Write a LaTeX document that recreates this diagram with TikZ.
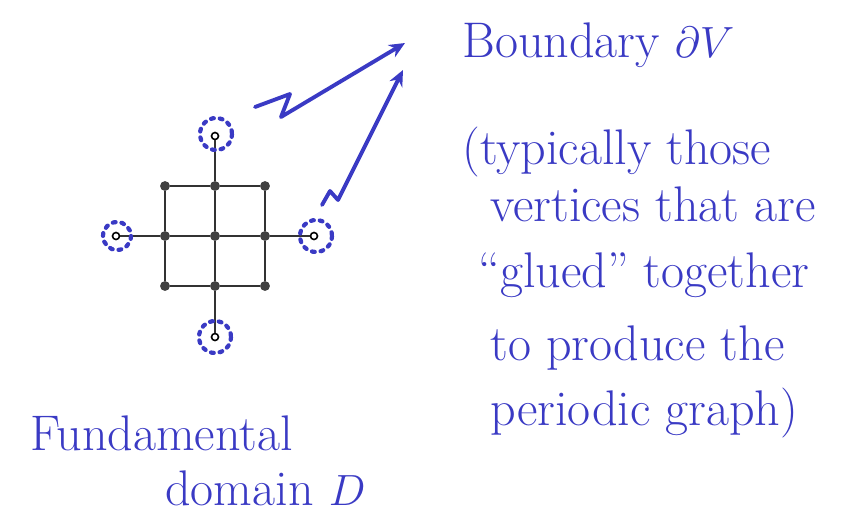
\documentclass[tikz,border=0pt]{standalone}
\usetikzlibrary{arrows.meta}
\definecolor{tinta}{RGB}{58,58,196}
\begin{document}
\begin{tikzpicture}[
    x=0.02cm,
    y=-0.02cm,
    font=\fontsize{28.5}{32}\selectfont,
    vertice/.style={circle,fill=black!75,inner sep=0pt,minimum size=5.6pt},
    borde/.style={circle,draw=black,fill=white,line width=0.9pt,inner sep=0pt,minimum size=4pt},
    arista/.style={line width=1.2pt,black!80},
    anillo/.style={tinta,line width=2.4pt,line cap=round,dash pattern=on 1.6pt off 3.4pt},
    flecha/.style={tinta,line width=2.2pt,line join=round,line cap=round,-{Stealth[length=9pt,width=8pt]}},
    rotulo/.style={tinta,anchor=base west,inner sep=0pt}
]
    \useasboundingbox (0,0) rectangle (853,515);

    % Dominio fundamental
    \foreach \i/\x in {1/165,2/215,3/265}
        \foreach \j/\y in {1/186,2/236,3/286}
            \node[vertice] (v\i\j) at (\x,\y) {};
    \node[borde] (bn) at (215,136) {};
    \node[borde] (bs) at (215,337) {};
    \node[borde] (bo) at (116,236) {};
    \node[borde] (be) at (314,236) {};
    \foreach \j in {1,2,3}
        \draw[arista] (v1\j) -- (v2\j) -- (v3\j);
    \foreach \i in {1,2,3}
        \draw[arista] (v\i1) -- (v\i2) -- (v\i3);
    \draw[arista] (bn) -- (v21);
    \draw[arista] (bs) -- (v23);
    \draw[arista] (bo) -- (v12);
    \draw[arista] (be) -- (v32);

    % Anillos del borde
    \draw[anillo] (bn) ++(1,-2) circle (16);
    \draw[anillo] (bs) ++(0,0) circle (16);
    \draw[anillo] (bo) ++(1,0) circle (14);
    \draw[anillo] (be) ++(2,0) circle (16);

    % Textos
    \node[rotulo] (tborde) at (462,57) {Boundary $\partial V$};
    \node[rotulo] (t1) at (462,164) {(typically those};
    \node[rotulo] (t2) at (490,221) {vertices that are};
    \node[rotulo] (t3) at (478,287) {``glued'' together};
    \node[rotulo] (t4) at (490,360) {to produce the};
    \node[rotulo] (t5) at (490,425) {periodic graph)};
    \node[rotulo] (tdom) at (30,450) {Fundamental};
    \node[rotulo] (tdom2) at (165,505) {domain $D$};

    % Flechas
    \coordinate (f1) at (255,107);
    \coordinate (p1) at (405,43);
    \coordinate (f2) at (322,205);
    \coordinate (p2) at (403,70);
    \draw[flecha] (f1) -- (290,94) -- (281,117) -- (p1);
    \draw[flecha] (f2) -- (330,191) -- (338,200) -- (p2);
\end{tikzpicture}
\end{document}
